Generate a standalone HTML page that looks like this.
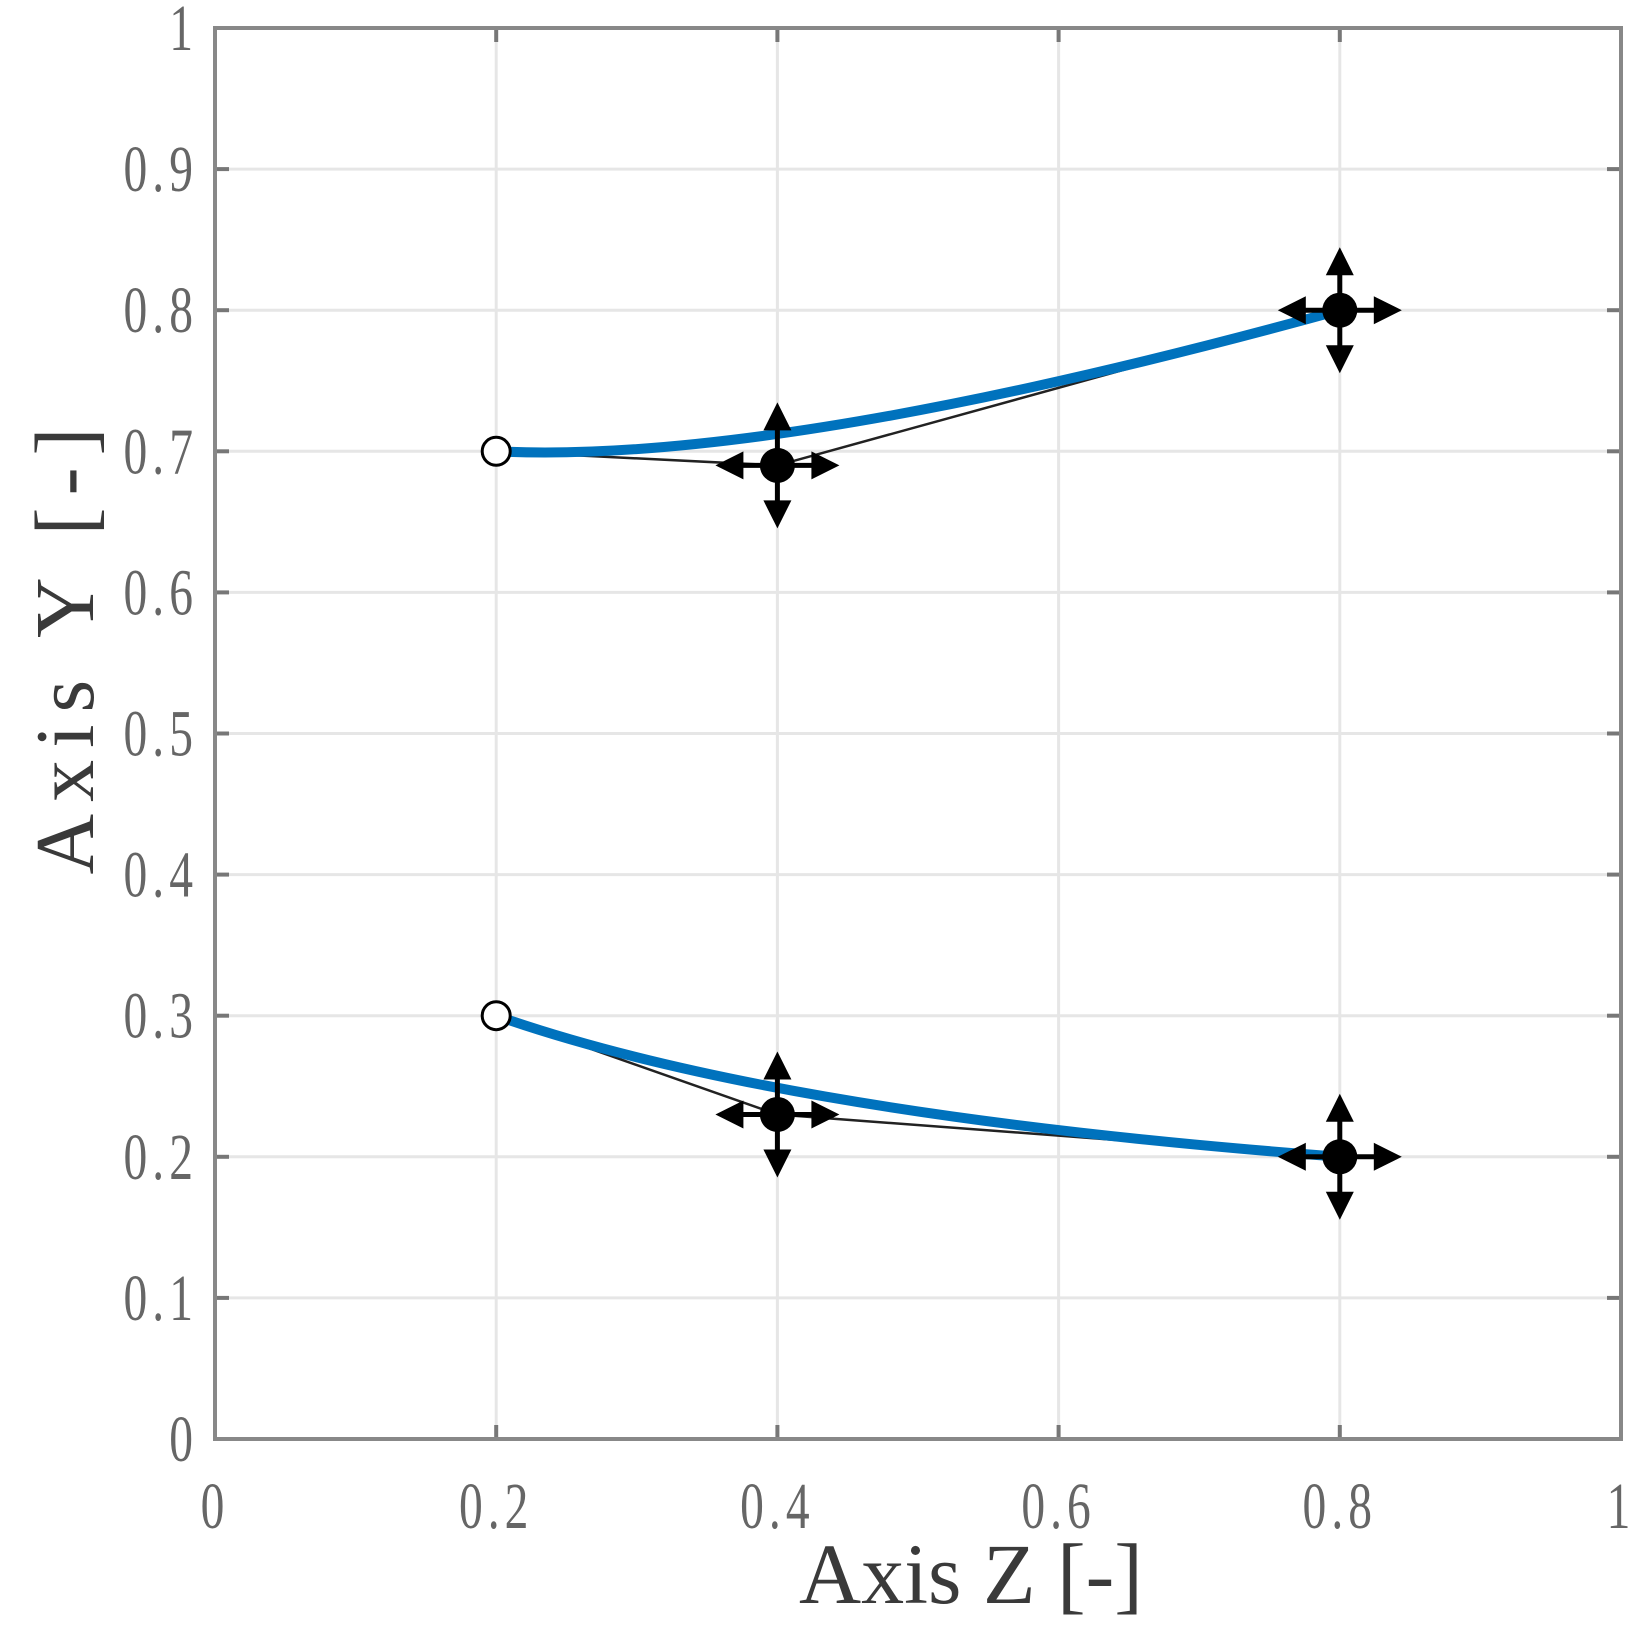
<!DOCTYPE html>
<html><head><meta charset="utf-8"><style>
html,body{margin:0;padding:0;background:#fff;width:1644px;height:1640px;overflow:hidden}
svg{display:block}
text{font-family:"Liberation Serif",serif}
</style></head><body>
<svg id="chart" width="1644" height="1640" xmlns="http://www.w3.org/2000/svg">
<rect x="0" y="0" width="1644" height="1640" fill="#fff"/>
<g id="grid"></g>
<g id="curves"></g>
<g id="markers"></g>
<g id="axes"></g>
<text x="971" y="1603" font-size="86" fill="#3a3a3a" text-anchor="middle">Axis Z [-]</text>
<text transform="translate(93,645) rotate(-90)" font-size="84" fill="#3a3a3a" text-anchor="middle" letter-spacing="12">Axis Y [-]</text>
</svg>
<script>
const xTicks = [0, 0.2, 0.4, 0.6, 0.8, 1];
const xTickLabels = ["0", "0.2", "0.4", "0.6", "0.8", "1"];
const yTicks = [0, 0.1, 0.2, 0.3, 0.4, 0.5, 0.6, 0.7, 0.8, 0.9, 1];
const yTickLabels = ["0", "0.1", "0.2", "0.3", "0.4", "0.5", "0.6", "0.7", "0.8", "0.9", "1"];
const topCurveX = [0.2, 0.4, 0.8];
const topCurveY = [0.7, 0.69, 0.8];
const bottomCurveX = [0.2, 0.4, 0.8];
const bottomCurveY = [0.3, 0.23, 0.2];

const L = 215, R = 1621, T = 28, B = 1439;
const sx = v => L + v * (R - L);
const sy = v => B - v * (B - T);
const NS = "http://www.w3.org/2000/svg";
function mk(tag, attrs, parent) {
  const e = document.createElementNS(NS, tag);
  for (const k in attrs) e.setAttribute(k, attrs[k]);
  parent.appendChild(e);
  return e;
}
const grid = document.getElementById('grid');
const axes = document.getElementById('axes');
const curves = document.getElementById('curves');
const markers = document.getElementById('markers');

xTicks.forEach((v, i) => {
  const g = mk('line', {x1: sx(v), x2: sx(v), y1: T, y2: B, stroke: '#e6e6e6', 'stroke-width': 3}, grid);
  
  
  const t1 = mk('line', {x1: sx(v), x2: sx(v), y1: B, y2: B - 14, stroke: '#777', 'stroke-width': 4}, axes);
  
  
  const t2 = mk('line', {x1: sx(v), x2: sx(v), y1: T, y2: T + 14, stroke: '#777', 'stroke-width': 4}, axes);
  
  
  const lb = mk('text', {x: 0, y: 0, 'font-size': 66, fill: '#666', 'text-anchor': 'middle', 'letter-spacing': 7,
    transform: `translate(${sx(v)},1528) scale(0.72,1)`}, axes);
  lb.textContent = xTickLabels[i];
  
  
});
yTicks.forEach((v, i) => {
  const g = mk('line', {x1: L, x2: R, y1: sy(v), y2: sy(v), stroke: '#e6e6e6', 'stroke-width': 3}, grid);
  
  
  const t1 = mk('line', {x1: L, x2: L + 14, y1: sy(v), y2: sy(v), stroke: '#777', 'stroke-width': 4}, axes);
  
  
  const t2 = mk('line', {x1: R, x2: R - 14, y1: sy(v), y2: sy(v), stroke: '#777', 'stroke-width': 4}, axes);
  
  
  const lb = mk('text', {x: 0, y: 0, 'font-size': 66, fill: '#666', 'text-anchor': 'end', 'letter-spacing': 7,
    transform: `translate(198,${sy(v) + 22}) scale(0.72,1)`}, axes);
  lb.textContent = yTickLabels[i];
  
  
});
const box = mk('rect', {x: L, y: T, width: R - L, height: B - T, fill: 'none', stroke: '#888', 'stroke-width': 4}, axes);



function drawCurve(xs, ys, name) {
  const pts = xs.map((x, i) => [sx(x), sy(ys[i])]);
  const poly = mk('polyline', {points: pts.map(p => p.join(',')).join(' '), fill: 'none', stroke: '#222', 'stroke-width': 2.5}, curves);
  
  
  const path = mk('path', {d: `M${pts[0][0]},${pts[0][1]} Q${pts[1][0]},${pts[1][1]} ${pts[2][0]},${pts[2][1]}`,
    fill: 'none', stroke: '#0072BD', 'stroke-width': 10}, curves);
  
  
  const oc = mk('circle', {cx: pts[0][0], cy: pts[0][1], r: 14, fill: '#fff', stroke: '#000', 'stroke-width': 3}, markers);
  
  
  for (let i = 1; i < pts.length; i++) {
    const [cx, cy] = pts[i];
    const g = mk('g', {}, markers);
    
    
    mk('line', {x1: cx - 50, x2: cx + 50, y1: cy, y2: cy, stroke: '#000', 'stroke-width': 5}, g);
    mk('line', {x1: cx, x2: cx, y1: cy - 50, y2: cy + 50, stroke: '#000', 'stroke-width': 5}, g);
    mk('polygon', {points: `${cx-62},${cy} ${cx-34},${cy-14} ${cx-34},${cy+14}`, fill: '#000'}, g);
    mk('polygon', {points: `${cx+62},${cy} ${cx+34},${cy-14} ${cx+34},${cy+14}`, fill: '#000'}, g);
    mk('polygon', {points: `${cx},${cy-63} ${cx-14},${cy-35} ${cx+14},${cy-35}`, fill: '#000'}, g);
    mk('polygon', {points: `${cx},${cy+63} ${cx-14},${cy+35} ${cx+14},${cy+35}`, fill: '#000'}, g);
    mk('circle', {cx: cx, cy: cy, r: 17.5, fill: '#000'}, g);
  }
}
drawCurve(topCurveX, topCurveY, 'top');
drawCurve(bottomCurveX, bottomCurveY, 'bottom');
</script>
</body></html>
